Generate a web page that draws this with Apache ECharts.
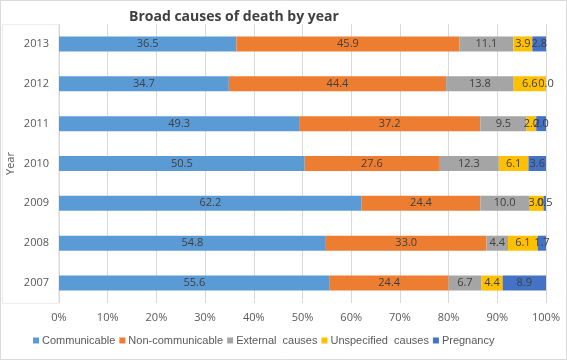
<!DOCTYPE html>
<html>
<head>
<meta charset="utf-8">
<script src="https://cdn.jsdelivr.net/npm/echarts@6/dist/echarts.min.js"></script>
<style>
  html, body { margin: 0; padding: 0; background: #fff; }
  #chart { width: 567px; height: 360px; }
</style>
</head>
<body>
<div id="chart"></div>
<script>
// years, bottom to top as drawn
const years = ['2007', '2008', '2009', '2010', '2011', '2012', '2013'];

const communicable    = [55.6, 54.8, 62.2, 50.5, 49.3, 34.7, 36.5];
const nonCommunicable = [24.4, 33.0, 24.4, 27.6, 37.2, 44.4, 45.9];
const externalCauses  = [6.7, 4.4, 10.0, 12.3, 9.5, 13.8, 11.1];
const unspecified     = [4.4, 6.1, 3.0, 6.1, 2.0, 6.6, 3.9];
const pregnancy       = [8.9, 1.7, 0.5, 3.6, 2.0, 0.0, 2.8];

const xTicks = ['0%', '10%', '20%', '30%', '40%', '50%', '60%', '70%', '80%', '90%', '100%'];

const groups = [
  { name: 'Communicable', data: communicable, color: '#5B9BD5' },
  { name: 'Non-communicable', data: nonCommunicable, color: '#ED7D31' },
  { name: 'External  causes', data: externalCauses, color: '#A5A5A5' },
  { name: 'Unspecified  causes', data: unspecified, color: '#FFC000' },
  { name: 'Pregnancy', data: pregnancy, color: '#4472C4' }
];

// totals per year so the bars fill 100% like the original
const totals = years.map((y, i) => groups.reduce((s, g) => s + g.data[i], 0));

const chart = echarts.init(document.getElementById('chart'));

const option = {
  animation: false,
  textStyle: { fontFamily: 'Open Sans, sans-serif' },
  title: {
    text: 'Broad causes of death by year',
    left: 124,
    top: 5,
    textStyle: { fontSize: 14, fontWeight: 'bold', color: '#404040', fontFamily: 'Open Sans, sans-serif' }
  },
  grid: { left: 59, right: 21, top: 24, bottom: 57, outerBoundsMode: 'none' },
  legend: {
    bottom: 9,
    left: 28,
    itemWidth: 6,
    itemHeight: 6,
    itemGap: 4,
    icon: 'rect',
    textStyle: { color: '#595959', fontSize: 11, fontFamily: 'Liberation Sans, Arial, sans-serif', padding: [0, 0, 0, -2] },
    data: groups.map(g => g.name)
  },
  xAxis: {
    type: 'value',
    min: 0,
    max: 100,
    interval: 10,
    axisLine: { show: false },
    axisTick: { show: false },
    splitLine: { lineStyle: { color: '#D9D9D9' } },
    axisLabel: {
      color: '#595959',
      fontSize: 11,
      margin: 9,
      formatter: (v) => xTicks[Math.round(v / 10)]
    }
  },
  yAxis: {
    type: 'category',
    data: years,
    name: 'Year',
    nameLocation: 'middle',
    nameGap: 43,
    nameMoveOverlap: false,
    nameRotate: 90,
    nameTextStyle: { color: '#595959', fontSize: 11 },
    axisLine: { show: false },
    axisTick: { show: false },
    axisLabel: { color: '#595959', fontSize: 11, margin: 10 }
  },
  graphic: [
    {
      type: 'rect',
      shape: { x: 0.5, y: 0.5, width: 566, height: 359 },
      style: { fill: 'none', stroke: '#D9D9D9', lineWidth: 1 },
      silent: true
    },
    {
      type: 'rect',
      shape: { x: 2.5, y: 24.5, width: 56, height: 279 },
      style: { fill: 'none', stroke: '#ECECEC', lineWidth: 1 },
      silent: true
    }
  ],
  series: groups.map(g => ({
    name: g.name,
    type: 'bar',
    stack: 'total',
    barWidth: 15,
    itemStyle: { color: g.color },
    label: {
      show: true,
      position: 'inside',
      color: '#404040',
      fontSize: 11,
      formatter: (p) => g.data[p.dataIndex].toFixed(1)
    },
    data: g.data.map((v, i) => v / totals[i] * 100)
  }))
};

chart.setOption(option);
</script>
</body>
</html>
